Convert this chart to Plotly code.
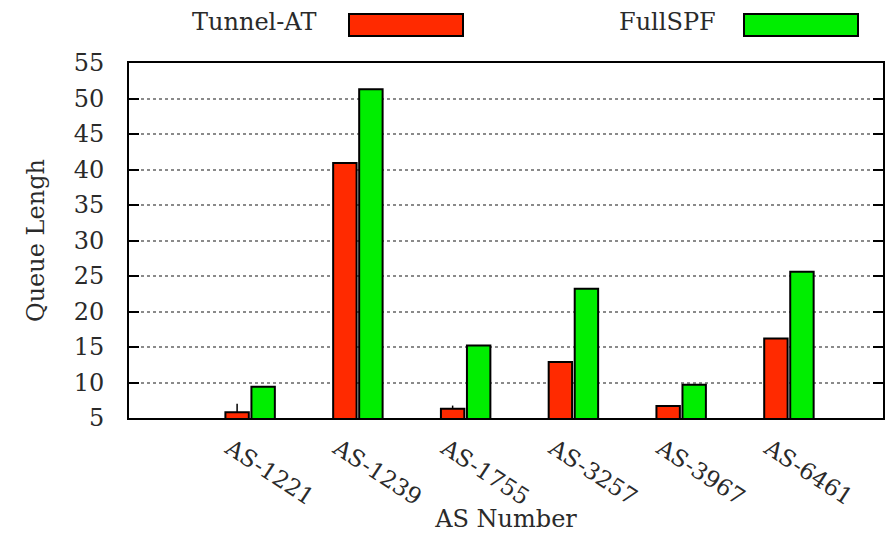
import plotly.graph_objects as go

# Queue length per AS topology, Tunnel-AT vs FullSPF
as_names = ["AS-1221", "AS-1239", "AS-1755", "AS-3257", "AS-3967", "AS-6461"]
tunnel_at = [5.8, 40.9, 6.3, 12.9, 6.7, 16.2]
tunnel_at_err = [1.2, 0.0, 0.45, 0.0, 0.0, 0.0]
full_spf = [9.4, 51.3, 15.2, 23.2, 9.7, 25.6]
y_ticks = [5, 10, 15, 20, 25, 30, 35, 40, 45, 50, 55]

FONT = "DejaVu Serif"
TEXT = "#2a2a2a"
RED = "#ff2a00"
GREEN = "#00ee00"

x_pos = list(range(len(as_names)))

fig = go.Figure()
fig.add_trace(go.Bar(
    x=x_pos, y=tunnel_at, name="Tunnel-AT",
    marker=dict(color=RED, line=dict(color="black", width=2)),
    error_y=dict(type="data", array=tunnel_at_err,
                 arrayminus=[0] * len(tunnel_at_err),
                 symmetric=False, color="black", thickness=1.5, width=0),
))
fig.add_trace(go.Bar(
    x=x_pos, y=full_spf, name="FullSPF",
    marker=dict(color=GREEN, line=dict(color="black", width=2)),
))

fig.update_layout(
    width=892, height=533,
    margin=dict(l=129, r=9, t=63, b=115),
    paper_bgcolor="white", plot_bgcolor="white",
    barmode="group", bargap=0.517, bargroupgap=0.1,
    showlegend=False,
    font=dict(family=FONT, size=24, color=TEXT),
)

fig.update_xaxes(
    range=[-1.124, 5.873], automargin=False,
    tickmode="array", tickvals=x_pos, ticktext=as_names,
    tickangle=33, ticks="", ticklabelshift=-20, ticklabelstandoff=6,
    tickfont=dict(family=FONT, size=23, color=TEXT),
    showline=True, linecolor="black", linewidth=2, mirror=True,
    showgrid=False, zeroline=False,
    title=dict(text="AS Number", standoff=0,
               font=dict(family=FONT, size=24, color=TEXT)),
)
fig.update_yaxes(
    range=[5, 55], automargin=False,
    tickmode="array", tickvals=y_ticks,
    ticks="inside", ticklen=10, tickwidth=2, tickcolor="black",
    ticklabelstandoff=18,
    tickfont=dict(family=FONT, size=24, color=TEXT),
    showline=True, linecolor="black", linewidth=2, mirror="ticks",
    showgrid=True, gridcolor="#8a8a8a", griddash="dot", gridwidth=1.5,
    zeroline=False,
    title=dict(text="Queue Lengh", standoff=22,
               font=dict(family=FONT, size=24, color=TEXT)),
)

# Key above the plot: label followed by a wide colour swatch
key = [("Tunnel-AT", RED, 318, 349, 463), ("FullSPF", GREEN, 718, 744, 858)]
for label, color, text_right, x0, x1 in key:
    fig.add_shape(type="rect", xref="paper", yref="paper",
                  x0=(x0 - 129) / 754, x1=(x1 - 129) / 754,
                  y0=(418 - 36) / 355, y1=(418 - 14) / 355,
                  fillcolor=color, line=dict(color="black", width=2))
    fig.add_annotation(text=label, xref="paper", yref="paper",
                       x=(text_right - 129) / 754, y=(418 - 22) / 355,
                       xanchor="right", yanchor="middle", showarrow=False,
                       font=dict(family=FONT, size=24, color=TEXT))

fig.write_html("out.html")
